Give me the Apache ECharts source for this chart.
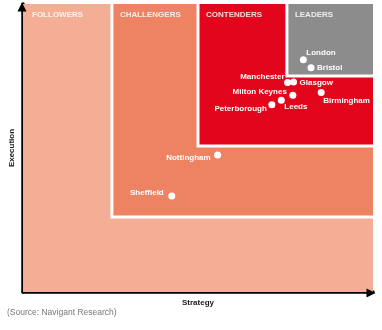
<!DOCTYPE html>
<html>
<head>
<meta charset="utf-8">
<script src="https://cdn.jsdelivr.net/npm/echarts@6/dist/echarts.min.js"></script>
<style>
html,body{margin:0;padding:0;background:#fff;}
#chart{width:382px;height:330px;}
</style>
</head>
<body>
<div id="chart"></div>
<script>
// ---- data ----
const zoneNames = ['FOLLOWERS', 'CHALLENGERS', 'CONTENDERS', 'LEADERS'];
const zoneStrategyStart = [0, 25.4, 50, 75.4];
const zoneExecutionStart = [0, 26, 50.7, 75];

const cityNames = ['London', 'Bristol', 'Manchester', 'Glasgow', 'Birmingham', 'Milton Keynes', 'Leeds', 'Peterborough', 'Nottingham', 'Sheffield'];
const strategyValues = [80.1, 82.3, 75.6, 77.3, 85.2, 77.1, 73.8, 71.1, 55.6, 42.5];
const executionValues = [80.6, 77.9, 72.7, 72.9, 69.3, 68.3, 66.6, 65.0, 47.6, 33.3];

const axisNames = { x: 'Strategy', y: 'Execution' };
const sourceText = '(Source: Navigant Research)';

// ---- styles ----
const zoneColors = ['#F4AE95', '#EE8364', '#E3051B', '#8C8C8C'];
const labelStyle = {
  'London':        { position: 'right', offset: [-0.5, -7] },
  'Bristol':       { position: 'right', offset: [2.5, 0] },
  'Manchester':    { position: 'left',  offset: [0.5, -6] },
  'Glasgow':       { position: 'right', offset: [2.5, 1] },
  'Birmingham':    { position: 'right', offset: [-1.5, 8] },
  'Milton Keynes': { position: 'left',  offset: [-2.5, -3] },
  'Leeds':         { position: 'right', offset: [-0.5, 7] },
  'Peterborough':  { position: 'left',  offset: [-1.5, 4] },
  'Nottingham':    { position: 'left',  offset: [-3.5, 3] },
  'Sheffield':     { position: 'left',  offset: [-4.5, -3] }
};
const FONT = '"Liberation Sans", Arial, sans-serif';

const zoneData = zoneNames.map((n, i) => [zoneStrategyStart[i], zoneExecutionStart[i], i]);
const cityData = cityNames.map((n, i) => ({
  name: n,
  value: [strategyValues[i], executionValues[i]],
  label: { show: true, position: labelStyle[n].position, distance: 0, offset: labelStyle[n].offset }
}));

const axisLineCfg = { show: true, lineStyle: { color: '#000', width: 3.5 } };

const chart = echarts.init(document.getElementById('chart'), null, { renderer: 'canvas' });
chart.setOption({
  animation: false,
  backgroundColor: '#fff',
  grid: { left: 22, right: 9, top: 4, bottom: 38 },
  xAxis: {
    type: 'value', min: 0, max: 100,
    offset: 1,
    axisLine: axisLineCfg,
    axisTick: { show: false }, axisLabel: { show: false }, splitLine: { show: false },
    name: axisNames.x, nameLocation: 'middle', nameGap: 6,
    nameTextStyle: { fontFamily: FONT, fontWeight: 'bold', fontSize: 8, color: '#1a1a1a' }
  },
  yAxis: {
    type: 'value', min: 0, max: 100,
    offset: 1,
    axisLine: axisLineCfg,
    axisTick: { show: false }, axisLabel: { show: false }, splitLine: { show: false },
    name: axisNames.y, nameLocation: 'middle', nameGap: 6,
    nameTextStyle: { fontFamily: FONT, fontWeight: 'bold', fontSize: 8, color: '#1a1a1a' }
  },
  series: [
    {
      type: 'custom',
      data: zoneData,
      z: 1,
      renderItem: function (params, api) {
        const x0 = api.value(0), y0 = api.value(1), idx = api.value(2);
        const tl = api.coord([x0, 100]);
        const br = api.coord([100, y0]);
        const children = [{
          type: 'rect',
          shape: { x: tl[0], y: tl[1], width: br[0] - tl[0], height: br[1] - tl[1] },
          style: { fill: zoneColors[idx] }
        }];
        if (idx > 0) {
          children.push({
            type: 'polyline',
            shape: { points: [[tl[0], tl[1]], [tl[0], br[1]], [br[0], br[1]]] },
            style: { stroke: '#fff', lineWidth: 3, fill: null }
          });
        }
        children.push({
          type: 'text',
          style: {
            text: zoneNames[idx],
            x: tl[0] + (idx === 0 ? 9 : 8),
            y: tl[1] + 10.5,
            verticalAlign: 'middle',
            fontFamily: FONT, fontWeight: 'bold', fontSize: 8,
            fill: 'rgba(255,255,255,0.85)'
          }
        });
        return { type: 'group', children: children };
      }
    },
    {
      type: 'scatter',
      z: 5,
      symbolSize: 7,
      itemStyle: { color: '#fff', opacity: 1 },
      label: { color: '#fff', fontFamily: FONT, fontWeight: 'bold', fontSize: 8, formatter: '{b}' },
      data: cityData
    }
  ]
});

// arrow heads at axis ends (decoration), positioned from the grid's own scale
const xEnd = chart.convertToPixel({ gridIndex: 0 }, [100, 0]);
const yEnd = chart.convertToPixel({ gridIndex: 0 }, [0, 100]);
const ax = xEnd[0] + 2.5, ay = xEnd[1] + 1;
const bx = yEnd[0] - 1, by = yEnd[1] - 1.5;
chart.setOption({
  graphic: [
    { type: 'text', left: 7, top: 308,
      style: { text: sourceText, fontFamily: FONT, fontSize: 8.5, fill: '#777' } },
    { type: 'polygon', z: 100,
      shape: { points: [[ax, ay], [ax - 9, ay - 4.5], [ax - 9, ay + 4.5]] },
      style: { fill: '#000' } },
    { type: 'polygon', z: 100,
      shape: { points: [[bx, by], [bx - 4.5, by + 9], [bx + 4.5, by + 9]] },
      style: { fill: '#000' } }
  ]
});
</script>
</body>
</html>
